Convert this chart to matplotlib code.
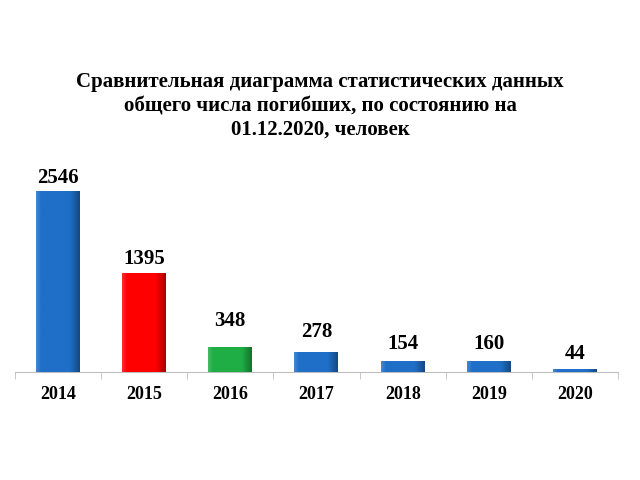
import numpy as np
import matplotlib.pyplot as plt
from matplotlib.colors import LinearSegmentedColormap

years = ['2014', '2015', '2016', '2017', '2018', '2019', '2020']
deaths = [2546, 1395, 348, 278, 154, 160, 44]
bar_colors = ['#1f6fc8', '#ff0000', '#1fae45', '#1f6fc8', '#1f6fc8', '#1f6fc8', '#1f6fc8']

title = ('Сравнительная диаграмма статистических данных\n'
         'общего числа погибших, по состоянию на\n'
         '01.12.2020, человек')

plt.rcParams['font.family'] = ['Liberation Serif', 'DejaVu Serif']

fig = plt.figure(figsize=(6.4, 4.8), dpi=100)
ax = fig.add_axes([0.023, 0.225, 0.943, 0.44])

x = np.arange(len(years))
bars = ax.bar(x, deaths, width=0.51, color=bar_colors, zorder=2)

# shaded look: horizontal gradient clipped to each bar
for b, c in zip(bars, bar_colors):
    cmap = LinearSegmentedColormap.from_list('g', ['#ffffff', c, c, '#000000'])
    grad = np.linspace(0.28, 0.78, 64).reshape(1, -1)
    x0, y0 = b.get_x(), b.get_y()
    im = ax.imshow(grad, cmap=cmap, vmin=0, vmax=1, aspect='auto',
                   extent=[x0, x0 + b.get_width(), y0, y0 + b.get_height()], zorder=3)
    im.set_clip_path(b)
    b.set_edgecolor('none')

# label offsets (points) as placed in the original
label_pad = [2, 2.5, 12, 7, 5, 5, 3.5]
for xi, v, p in zip(x, deaths, label_pad):
    ax.annotate(str(v), (xi, v), xytext=(0, p), textcoords='offset points',
                ha='center', va='bottom', fontsize=15, fontweight='bold')

ax.set_xlim(-0.5, len(years) - 0.5)
ax.set_ylim(0, 2965)
ax.set_xticks(x)
ax.set_xticklabels(years, fontsize=13, fontweight='bold')
ax.tick_params(axis='x', length=0, pad=10)
ax.set_xticks(np.arange(-0.5, len(years)), minor=True)
ax.tick_params(axis='x', which='minor', length=5, color='#bfbfbf')
ax.set_yticks([])
for s in ['left', 'right', 'top']:
    ax.spines[s].set_visible(False)
ax.spines['bottom'].set_color('#bfbfbf')

fig.text(0.5, 0.779, title, ha='center', va='center', fontsize=15,
         fontweight='bold', linespacing=1.25)

fig.savefig('out.png', dpi=100)
